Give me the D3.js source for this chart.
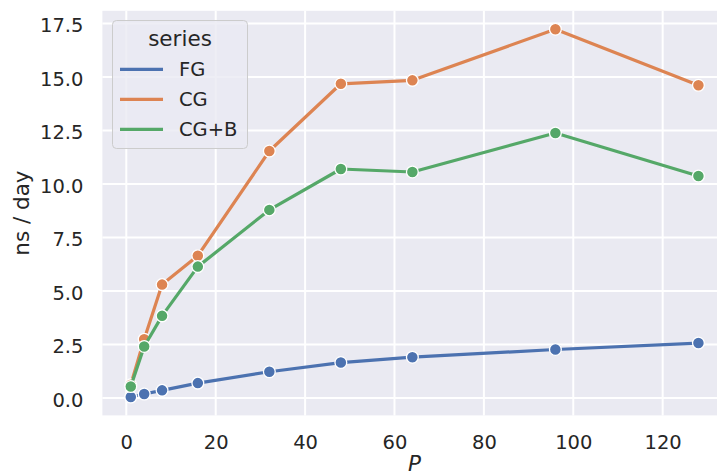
<!DOCTYPE html>
<html>
<head>
<meta charset="utf-8">
<script src="https://cdn.jsdelivr.net/npm/d3@7"></script>
<style>
  html, body { margin: 0; padding: 0; background: #ffffff; }
  svg { display: block; }
  text { font-family: "DejaVu Sans", sans-serif; fill: #262626; }
</style>
</head>
<body>
<div id="chart"></div>
<script>
// Throughput (ns/day) against number of processes P
const procs = [1, 4, 8, 16, 32, 48, 64, 96, 128];
const seriesNames = ["FG", "CG", "CG+B"];
const fgValues  = [0.05, 0.19, 0.36, 0.70, 1.23, 1.66, 1.91, 2.27, 2.57];
const cgValues  = [0.62, 2.75, 5.30, 6.65, 11.54, 14.68, 14.84, 17.23, 14.61];
const cgbValues = [0.54, 2.41, 3.84, 6.14, 8.79, 10.70, 10.56, 12.38, 10.37];
const xTicks = [0, 20, 40, 60, 80, 100, 120];
const yTicks = [0, 2.5, 5, 7.5, 10, 12.5, 15, 17.5];
const colors = ["#4c72b0", "#dd8452", "#55a868"];

const W = 717, H = 476;
const plot = { left: 102.4, right: 726.8, top: 10.8, bottom: 415.4 };

const series = seriesNames.map((name, i) => ({
  name,
  color: colors[i],
  values: [fgValues, cgValues, cgbValues][i].map((v, j) => ({ x: procs[j], y: v }))
}));

// 5% padding around the data range on both axes
function padded(lo, hi) { const m = (hi - lo) * 0.05; return [lo - m, hi + m]; }
const allY = [].concat(fgValues, cgValues, cgbValues);
const x = d3.scaleLinear().domain(padded(d3.min(procs), d3.max(procs))).range([plot.left, plot.right]);
const y = d3.scaleLinear().domain(padded(d3.min(allY), d3.max(allY))).range([plot.bottom, plot.top]);

const svg = d3.select("#chart").append("svg").attr("width", W).attr("height", H);

svg.append("rect")
  .attr("x", plot.left).attr("y", plot.top)
  .attr("width", plot.right - plot.left).attr("height", plot.bottom - plot.top)
  .attr("fill", "#eaeaf2");

// grid
svg.append("g").selectAll("line").data(xTicks).join("line")
  .attr("x1", d => x(d)).attr("x2", d => x(d))
  .attr("y1", plot.top).attr("y2", plot.bottom)
  .attr("stroke", "#ffffff").attr("stroke-width", 2);
svg.append("g").selectAll("line").data(yTicks).join("line")
  .attr("y1", d => y(d)).attr("y2", d => y(d))
  .attr("x1", plot.left).attr("x2", plot.right)
  .attr("stroke", "#ffffff").attr("stroke-width", 2);

// axes (labels only, no domain line or tick marks)
const xAxis = svg.append("g")
  .attr("transform", `translate(0,${plot.bottom})`)
  .call(d3.axisBottom(x).tickValues(xTicks).tickSize(0).tickPadding(20).tickFormat(d3.format("d")));
const yAxis = svg.append("g")
  .attr("transform", `translate(${plot.left},0)`)
  .call(d3.axisLeft(y).tickValues(yTicks).tickSize(0).tickPadding(19).tickFormat(d3.format(".1f")));
[xAxis, yAxis].forEach(g => {
  g.select(".domain").remove();
  g.selectAll("text").attr("font-size", 19.5).attr("fill", "#262626")
    .style("font-family", "DejaVu Sans, sans-serif");
});
xAxis.selectAll("text").attr("dy", "0.71em");
yAxis.selectAll("text").attr("dy", "0.42em");

// axis titles
svg.append("text")
  .attr("x", (plot.left + plot.right) / 2).attr("y", 471)
  .attr("text-anchor", "middle").attr("font-size", 21.5).attr("font-style", "italic")
  .text("P");
svg.append("text")
  .attr("transform", `translate(29,${(plot.top + plot.bottom) / 2}) rotate(-90)`)
  .attr("text-anchor", "middle").attr("font-size", 21.5)
  .text("ns / day");

// lines and markers
const line = d3.line().x(d => x(d.x)).y(d => y(d.y));
const gSeries = svg.append("g").selectAll("g").data(series).join("g");
gSeries.append("path")
  .attr("d", d => line(d.values))
  .attr("fill", "none").attr("stroke", d => d.color)
  .attr("stroke-width", 3.2).attr("stroke-linejoin", "round").attr("stroke-linecap", "round");
gSeries.selectAll("circle").data(d => d.values.map(v => ({ ...v, color: d.color }))).join("circle")
  .attr("cx", d => x(d.x)).attr("cy", d => y(d.y)).attr("r", 5.9)
  .attr("fill", d => d.color).attr("stroke", "#ffffff").attr("stroke-width", 1.3);

// legend
const leg = svg.append("g");
leg.append("rect")
  .attr("x", 112.5).attr("y", 20.5).attr("width", 135).attr("height", 128)
  .attr("rx", 4).attr("ry", 4)
  .attr("fill", "#eaeaf2").attr("fill-opacity", 0.8)
  .attr("stroke", "#cccccc").attr("stroke-width", 1);
leg.append("text")
  .attr("x", 180).attr("y", 45.5).attr("text-anchor", "middle").attr("font-size", 21.5)
  .text("series");
const entries = leg.selectAll("g.entry").data(series).join("g").attr("class", "entry")
  .attr("transform", (d, i) => `translate(0,${69.3 + i * 30})`);
entries.append("line")
  .attr("x1", 120).attr("x2", 163).attr("y1", 0).attr("y2", 0)
  .attr("stroke", d => d.color).attr("stroke-width", 3.2);
entries.append("text")
  .attr("x", 179).attr("y", 0).attr("dy", "0.36em").attr("font-size", 19.5)
  .text(d => d.name);
</script>
</body>
</html>
